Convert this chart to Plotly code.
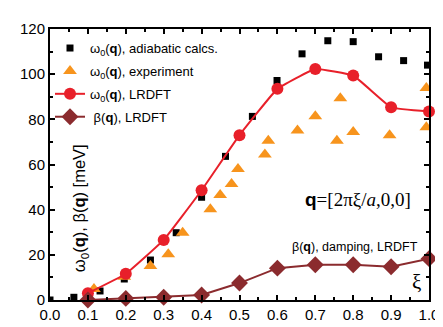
import plotly.graph_objects as go

# adiabatic calcs (black squares)
adi_x = [0.0, 0.063, 0.132, 0.196, 0.265, 0.333, 0.40, 0.463, 0.534, 0.599, 0.665, 0.733, 0.80, 0.867, 0.933, 0.996]
adi_y = [0.0, 1.2, 4.0, 9.3, 17.7, 29.8, 45.5, 63.6, 81.3, 97.2, 109.0, 114.8, 114.4, 107.7, 106.0, 104.0]

# experiment (orange triangles)
exp_x = [0.116, 0.196, 0.265, 0.312, 0.35, 0.423, 0.449, 0.479, 0.496, 0.567, 0.576, 0.653, 0.70, 0.757, 0.766, 0.80, 0.896, 0.993, 0.993]
exp_y = [4.9, 10.3, 15.1, 20.3, 29.8, 40.2, 46.5, 51.4, 58.0, 64.4, 70.5, 75.1, 81.4, 70.5, 89.3, 74.4, 73.0, 76.5, 93.9]

# LRDFT omega0 (red circles)
lr_x = [0.1, 0.2, 0.3, 0.4, 0.5, 0.6, 0.7, 0.8, 0.9, 1.0]
lr_w = [3.0, 11.6, 26.6, 48.6, 73.0, 93.5, 102.3, 99.4, 85.3, 83.5]
# LRDFT beta (dark red diamonds)
lr_b = [0.0, 0.7, 1.2, 2.2, 7.5, 14.1, 15.6, 15.6, 14.7, 18.3]

x_ticks = [0.0, 0.1, 0.2, 0.3, 0.4, 0.5, 0.6, 0.7, 0.8, 0.9, 1.0]
x_ticklabels = ["0.0", "0.1", "0.2", "0.3", "0.4", "0.5", "0.6", "0.7", "0.8", "0.9", "1.0"]
y_ticks = [0, 20, 40, 60, 80, 100, 120]

fig = go.Figure()
fig.add_trace(go.Scatter(x=adi_x, y=adi_y, mode="markers", name="ω<sub>0</sub>(<b>q</b>), adiabatic calcs.",
                         marker=dict(symbol="square", size=7, color="black"), legendgroup="a"))
fig.add_trace(go.Scatter(x=exp_x, y=exp_y, mode="markers", name="ω<sub>0</sub>(<b>q</b>), experiment",
                         marker=dict(symbol="triangle-up", size=12, color="#F7941D"), legendgroup="b"))
fig.add_trace(go.Scatter(x=lr_x, y=lr_w, mode="lines+markers", name="ω<sub>0</sub>(<b>q</b>), LRDFT",
                         line=dict(color="#E8202A", width=2, shape="spline", smoothing=0.3),
                         marker=dict(symbol="circle", size=12, color="#E8202A"), legendgroup="c", cliponaxis=False))
fig.add_trace(go.Scatter(x=lr_x, y=lr_b, mode="lines+markers", name=" β(<b>q</b>), LRDFT",
                         line=dict(color="#8B2B2E", width=2),
                         marker=dict(symbol="diamond", size=13, color="#8B2B2E"), legendgroup="d", cliponaxis=False))

axis_common = dict(showline=True, linecolor="black", linewidth=2, mirror="ticks", ticks="inside",
                   tickcolor="black", ticklen=5, tickwidth=1.5, showgrid=False, zeroline=False,
                   tickfont=dict(family="Liberation Sans, Arial", size=15, color="black"))
fig.update_xaxes(range=[0, 1.0], tickvals=x_ticks, ticktext=x_ticklabels,
                 minor=dict(ticks="inside", ticklen=3, dtick=0.05, tickcolor="black", tickwidth=1.5),
                 **axis_common)
fig.update_yaxes(range=[0, 120], tickvals=y_ticks,
                 minor=dict(ticks="inside", ticklen=3, dtick=10, tickcolor="black", tickwidth=1.5),
                 **axis_common)

ann = dict(xref="x domain", yref="y domain", showarrow=False, xanchor="center", yanchor="middle")
fig.add_annotation(x=0.08, y=0.34, textangle=-90,
                   text="ω<sub>0</sub>(<b>q</b>), β(<b>q</b>) [meV]",
                   font=dict(family="Liberation Sans, Arial", size=16.5, color="black"), **ann)
fig.add_annotation(x=0.967, y=0.066, text="ξ",
                   font=dict(family="Liberation Serif, Times New Roman", size=21, color="black"), **ann)
fig.add_annotation(x=0.812, y=0.37,
                   text="<span style='font-family:Liberation Sans, Arial'><b>q</b></span>=[2πξ/<i>a</i>,0,0]",
                   font=dict(family="Liberation Serif, Times New Roman", size=19, color="black"), **ann)
fig.add_annotation(x=0.805, y=0.196, text="β(<b>q</b>), damping, LRDFT",
                   font=dict(family="Liberation Sans, Arial", size=12.5, color="black"), **ann)

fig.update_layout(width=443, height=327, margin=dict(l=42, r=12, t=13, b=28),
                  plot_bgcolor="white", paper_bgcolor="white",
                  legend=dict(x=0.0, y=0.985, xanchor="left", yanchor="top", bgcolor="rgba(0,0,0,0)",
                              font=dict(family="Liberation Sans, Arial", size=13, color="black"),
                              tracegroupgap=3, itemwidth=30),
                  showlegend=True)

fig.write_html("out.html")
